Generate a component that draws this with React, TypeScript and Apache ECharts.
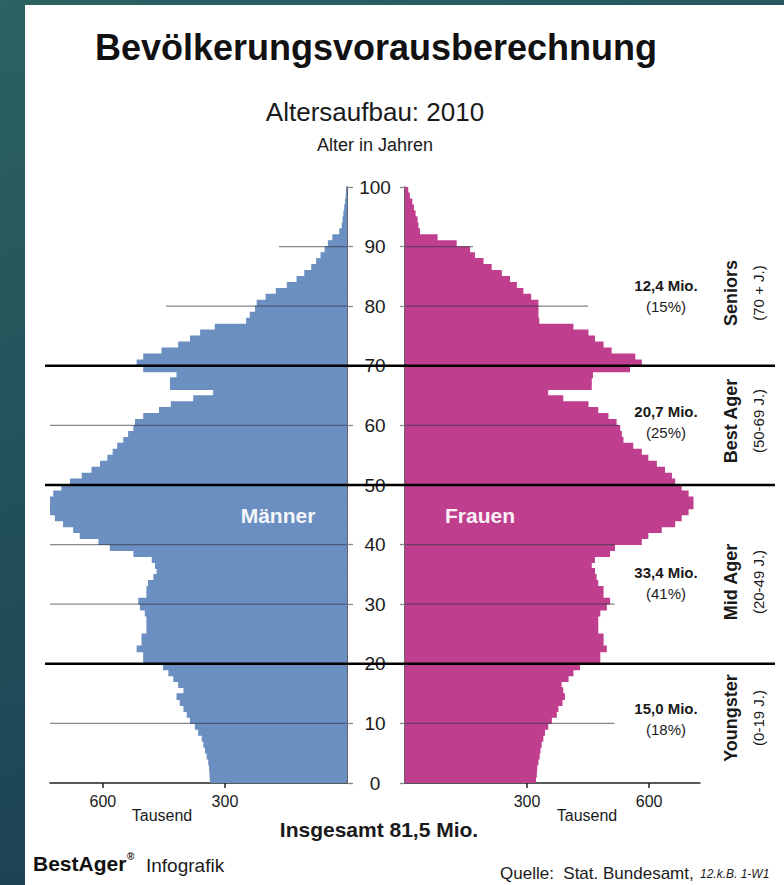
import React, { useEffect, useRef } from "react";
import * as echarts from "echarts";

// ---------- data ----------
const ages: string[] = Array.from({ length: 100 }, (_, i) => String(i));

// Männer, Tausend, age 0..99
const men: number[] = [
  337, 338, 339, 341, 345, 349, 353, 357, 366, 374,
  386, 394, 402, 411, 419, 402, 415, 427, 439, 452,
  501, 501, 517, 505, 505, 493, 493, 493, 497, 509,
  513, 493, 493, 489, 476, 468, 472, 480, 525, 583,
  611, 657, 673, 698, 718, 734, 745, 743, 722, 702,
  681, 652, 628, 607, 589, 576, 565, 550, 538, 525,
  521, 501, 462, 433, 378, 329, 435, 435, 419, 501,
  517, 501, 456, 415, 386, 361, 325, 248, 239, 226,
  222, 200, 175, 148, 124, 105, 88, 76, 65, 55,
  47, 36, 19, 13, 11, 9, 7, 5, 3, 2,
];

// Frauen, Tausend, age 0..99
const women: number[] = [
  322, 324, 325, 328, 331, 333, 336, 340, 344, 352,
  361, 373, 377, 387, 393, 389, 385, 402, 414, 430,
  480, 480, 496, 488, 488, 475, 475, 475, 480, 496,
  504, 488, 488, 475, 471, 467, 459, 467, 504, 516,
  582, 598, 631, 664, 680, 697, 709, 709, 697, 680,
  664, 656, 639, 619, 598, 582, 561, 537, 533, 529,
  520, 500, 475, 451, 389, 352, 459, 459, 462, 553,
  582, 566, 508, 488, 467, 451, 414, 330, 328, 328,
  328, 310, 291, 275, 258, 238, 213, 193, 172, 160,
  127, 80, 37, 33, 31, 26, 22, 18, 12, 8,
];

const xTickLabels: number[] = [300, 600];
const gridAges: number[] = [10, 30, 40, 60, 80, 90];
const menGridExtent: number[] = [730, 730, 730, 730, 445, 167];
const womenGridExtent: number[] = [515, 515, 515, 525, 450, 167];
const groupBoundaries: number[] = [20, 50, 70];

const groupNames: string[] = ["Seniors", "Best Ager", "Mid Ager", "Youngster"];
const groupRanges: string[] = ["(70 + J.)", "(50-69 J.)", "(20-49 J.)", "(0-19 J.)"];
const groupTotals: string[] = ["12,4 Mio.", "20,7 Mio.", "33,4 Mio.", "15,0 Mio."];
const groupShares: string[] = ["(15%)", "(25%)", "(41%)", "(18%)"];

// ---------- styles / layout ----------
const FONT = '"Liberation Sans", Arial, Helvetica, sans-serif';
const MEN_COLOR = "#6a8fc0";
const WOMEN_COLOR = "#bf3f8e";
const TEXT = "#1a1a1a";
const groupCenterY = [295, 421, 582, 718];
const groupNameY = [293, 421, 582, 718];

export default function App() {
  const ref = useRef<HTMLDivElement>(null);

  useEffect(() => {
    document.body.style.margin = "0";
    if (!ref.current) return;
    const chart = echarts.init(ref.current, undefined, { renderer: "svg" });

    const gridLineSeries: any[] = [];
    gridAges.forEach((a, i) => {
      gridLineSeries.push({
        type: "line",
        xAxisIndex: 0,
        yAxisIndex: 1,
        data: [
          [menGridExtent[i], a],
          [0, a],
        ],
        symbol: "none",
        silent: true,
        z: 3,
        lineStyle: { color: "rgba(50,55,70,0.6)", width: 1.3 },
      });
      gridLineSeries.push({
        type: "line",
        xAxisIndex: 1,
        yAxisIndex: 3,
        data: [
          [0, a],
          [womenGridExtent[i], a],
        ],
        symbol: "none",
        silent: true,
        z: 3,
        lineStyle: { color: "rgba(50,55,70,0.6)", width: 1.3 },
      });
    });

    const boundarySeries = groupBoundaries.map((a) => ({
      type: "line",
      xAxisIndex: 2,
      yAxisIndex: 4,
      data: [
        [0, a],
        [1, a],
      ],
      symbol: "none",
      silent: true,
      z: 6,
      lineStyle: { color: "#000", width: 2.5 },
    }));

    const xAxisCommon = (max: number, inverse: boolean, gridIndex: number) => ({
      gridIndex,
      type: "value",
      inverse,
      min: 0,
      max,
      interval: 300,
      axisLine: { show: true, lineStyle: { color: "#222", width: 1.5 } },
      axisTick: {
        show: true,
        length: 5,
        customValues: xTickLabels,
        lineStyle: { color: "#222", width: 1.5 },
      },
      axisLabel: {
        customValues: xTickLabels,
        fontSize: 16,
        color: TEXT,
        margin: 10,
        fontFamily: FONT,
      },
      splitLine: { show: false },
    });

    const text = (
      t: string,
      x: number,
      y: number,
      size: number,
      opts: any = {}
    ) => ({
      type: "text",
      x,
      y,
      rotation: opts.rotation || 0,
      z: 10,
      style: {
        text: t,
        fontSize: size,
        fontWeight: opts.bold ? "bold" : "normal",
        fontStyle: opts.italic ? "italic" : "normal",
        fill: opts.fill || TEXT,
        align: opts.align || "center",
        verticalAlign: "middle",
        fontFamily: FONT,
      },
    });

    const graphics: any[] = [
      text("Bevölkerungsvorausberechnung", 376, 47, 36, { bold: true, fill: "#111" }),
      text("Altersaufbau: 2010", 375, 112, 26),
      text("Alter in Jahren", 375, 145, 18),
      text("Männer", 278, 515, 21, { bold: true, fill: "#f4f6fa" }),
      text("Frauen", 480, 515, 21, { bold: true, fill: "#faf0f6" }),
      text("Tausend", 162, 815, 16),
      text("Tausend", 587, 815, 16),
      text("Insgesamt 81,5 Mio.", 379, 829, 21, { bold: true }),
      text("BestAger", 33, 863, 21, { bold: true, align: "left", fill: "#111" }),
      text("®", 127, 856, 10, { bold: true, align: "left", fill: "#111" }),
      text("Infografik", 146, 865, 19, { align: "left" }),
      text("Quelle:  Stat. Bundesamt,", 500, 873, 17, { align: "left" }),
      text("12.k.B. 1-W1", 700, 874, 12, { align: "left", italic: true }),
    ];
    groupNames.forEach((n, i) => {
      graphics.push(text(groupTotals[i], 666, groupCenterY[i] - 10, 15, { bold: true }));
      graphics.push(text(groupShares[i], 666, groupCenterY[i] + 11, 15));
      graphics.push(
        text(n, 731, groupNameY[i], 18, { bold: true, rotation: Math.PI / 2 })
      );
      graphics.push(
        text(groupRanges[i], 758, groupNameY[i], 15, { rotation: Math.PI / 2 })
      );
    });

    const option: any = {
      animation: false,
      grid: [
        { left: 50, top: 187, width: 297, height: 596 },
        { left: 405, top: 187, width: 295, height: 596 },
        { left: 45, top: 187, width: 730, height: 596 },
      ],
      xAxis: [
        xAxisCommon(730, true, 0),
        xAxisCommon(725, false, 1),
        { gridIndex: 2, type: "value", min: 0, max: 1, show: false },
      ],
      yAxis: [
        { gridIndex: 0, type: "category", data: ages, show: false },
        {
          gridIndex: 0,
          type: "value",
          min: 0,
          max: 100,
          interval: 10,
          position: "right",
          axisLine: { show: true, lineStyle: { color: "#2a2f3f", width: 1.5 } },
          axisTick: { show: true, length: 6, lineStyle: { color: "#888", width: 1.3 } },
          axisLabel: {
            fontSize: 19,
            color: TEXT,
            align: "center",
            margin: 28,
            fontFamily: FONT,
          },
          splitLine: { show: false },
        },
        { gridIndex: 1, type: "category", data: ages, show: false },
        {
          gridIndex: 1,
          type: "value",
          min: 0,
          max: 100,
          interval: 10,
          position: "left",
          axisLine: { show: true, lineStyle: { color: "#3a1f33", width: 1.5 } },
          axisTick: { show: true, length: 5, lineStyle: { color: "#888", width: 1.3 } },
          axisLabel: { show: false },
          splitLine: { show: false },
        },
        { gridIndex: 2, type: "value", min: 0, max: 100, show: false },
      ],
      series: [
        {
          type: "bar",
          name: "Männer",
          xAxisIndex: 0,
          yAxisIndex: 0,
          data: men,
          barWidth: 6.8,
          silent: true,
          itemStyle: { color: MEN_COLOR },
        },
        {
          type: "bar",
          name: "Frauen",
          xAxisIndex: 1,
          yAxisIndex: 2,
          data: women,
          barWidth: 6.8,
          silent: true,
          itemStyle: { color: WOMEN_COLOR },
        },
        ...gridLineSeries,
        ...boundarySeries,
      ],
      graphic: graphics,
    };

    chart.setOption(option);
    return () => chart.dispose();
  }, []);

  return (
    <div
      style={{
        position: "relative",
        width: 784,
        height: 885,
        background: "linear-gradient(160deg, #2b6262 0%, #1f4a57 60%, #1b3a4d 100%)",
        overflow: "hidden",
      }}
    >
      <div
        style={{
          position: "absolute",
          left: 25,
          top: 5,
          right: 0,
          bottom: 0,
          background: "#fff",
        }}
      />
      <div
        ref={ref}
        style={{ position: "absolute", left: 0, top: 0, width: 784, height: 885 }}
      />
    </div>
  );
}
